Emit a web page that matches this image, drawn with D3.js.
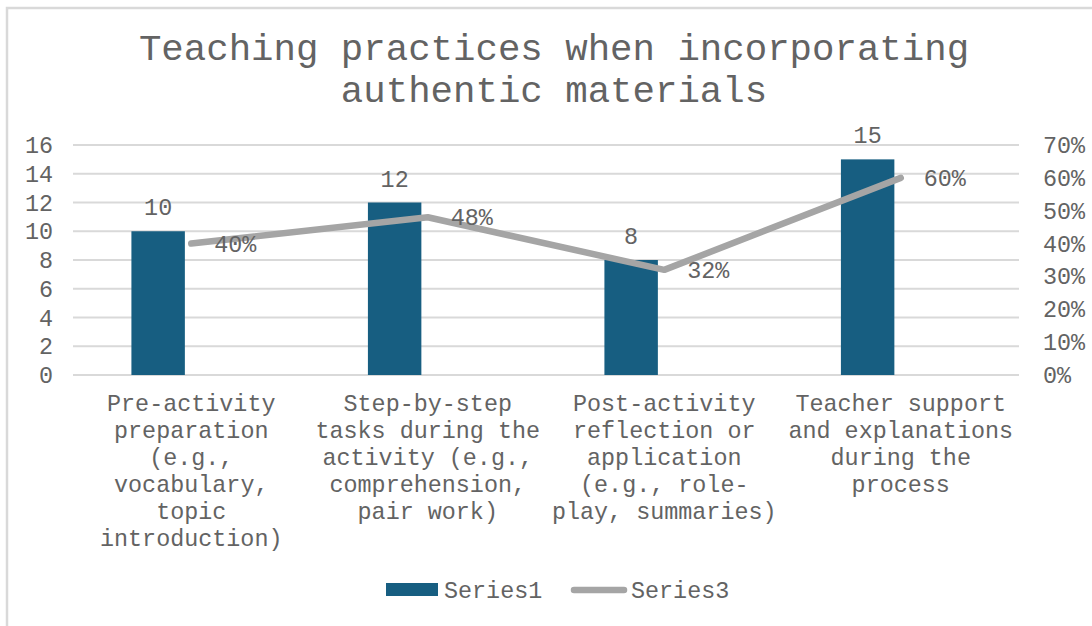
<!DOCTYPE html>
<html>
<head>
<meta charset="utf-8">
<script src="https://cdn.jsdelivr.net/npm/d3@7/dist/d3.min.js"></script>
<style>
  html, body { margin: 0; padding: 0; background: #ffffff; }
  svg { display: block; }
  text { font-family: "Liberation Mono", "Courier New", monospace; fill: #636363; }
</style>
</head>
<body>
<svg id="chart" width="1092" height="626"></svg>
<script>
// Chart data
const categories = [
  ["Pre-activity", "preparation", "(e.g.,", "vocabulary,", "topic", "introduction)"],
  ["Step-by-step", "tasks during the", "activity (e.g.,", "comprehension,", "pair work)"],
  ["Post-activity", "reflection or", "application", "(e.g., role-", "play, summaries)"],
  ["Teacher support", "and explanations", "during the", "process"]
];
const series1 = [10, 12, 8, 15];          // counts (left axis)
const series3 = [0.40, 0.48, 0.32, 0.60]; // shares (right axis)
const leftTicks = [0, 2, 4, 6, 8, 10, 12, 14, 16];
const rightTicks = [0, 0.1, 0.2, 0.3, 0.4, 0.5, 0.6, 0.7];
const seriesNames = ["Series1", "Series3"];
const titleLines = ["Teaching practices when incorporating", "authentic materials"];

const BAR_COLOR = "#175e81";
const LINE_COLOR = "#a5a5a5";
const GRID_COLOR = "#d9d9d9";
const FS = "23.4px";

const svg = d3.select("#chart");

// Outer chart frame
svg.append("rect")
  .attr("x", 7).attr("y", 8)
  .attr("width", 1200).attr("height", 700)
  .attr("fill", "#ffffff")
  .attr("stroke", GRID_COLOR).attr("stroke-width", 2.5);

// Plot area
const plot = { left: 73, right: 1019, top: 145, bottom: 375 };

const x = d3.scaleBand()
  .domain(d3.range(categories.length))
  .range([plot.left, plot.right])
  .paddingInner(0).paddingOuter(0);

const yLeft = d3.scaleLinear().domain([0, 16]).range([plot.bottom, plot.top]);
const yRight = d3.scaleLinear().domain([0, 0.7]).range([plot.bottom, plot.top]);

// Title
svg.append("g").selectAll("text")
  .data(titleLines)
  .join("text")
  .attr("x", 554)
  .attr("y", (d, i) => 60 + i * 42)
  .attr("text-anchor", "middle")
  .style("font-size", "37.4px")
  .text(d => d);

// Gridlines
svg.append("g").selectAll("line")
  .data(leftTicks)
  .join("line")
  .attr("x1", plot.left).attr("x2", plot.right)
  .attr("y1", d => yLeft(d)).attr("y2", d => yLeft(d))
  .attr("stroke", GRID_COLOR).attr("stroke-width", 1.8);

// Left axis
const leftAxis = svg.append("g")
  .attr("transform", `translate(${plot.left},0)`)
  .call(d3.axisLeft(yLeft).tickValues(leftTicks).tickSize(0).tickPadding(20).tickFormat(d3.format("d")));
leftAxis.select(".domain").remove();
leftAxis.selectAll("text").style("font-size", FS).attr("fill", "#636363");

// Right axis
const rightAxis = svg.append("g")
  .attr("transform", `translate(${plot.right},0)`)
  .call(d3.axisRight(yRight).tickValues(rightTicks).tickSize(0).tickPadding(24).tickFormat(d3.format(".0%")));
rightAxis.select(".domain").remove();
rightAxis.selectAll("text").style("font-size", FS).attr("fill", "#636363");

// Bars (offset left within each category slot)
const bw = x.bandwidth();
const barW = bw * 0.226;
const barCenter = i => x(i) + bw / 2 - bw * 0.14;

svg.append("g").selectAll("rect")
  .data(series1)
  .join("rect")
  .attr("x", (d, i) => barCenter(i) - barW / 2)
  .attr("y", d => yLeft(d))
  .attr("width", barW)
  .attr("height", d => yLeft(0) - yLeft(d))
  .attr("fill", BAR_COLOR);

// Bar value labels
svg.append("g").selectAll("text")
  .data(series1)
  .join("text")
  .attr("x", (d, i) => barCenter(i))
  .attr("y", d => yLeft(d) - 16)
  .attr("text-anchor", "middle")
  .style("font-size", FS)
  .text(d => d);

// Line series
const lineGen = d3.line()
  .x((d, i) => x(i) + bw / 2)
  .y(d => yRight(d));

svg.append("path")
  .datum(series3)
  .attr("d", lineGen)
  .attr("fill", "none")
  .attr("stroke", LINE_COLOR)
  .attr("stroke-width", 6.5)
  .attr("stroke-linecap", "round")
  .attr("stroke-linejoin", "round");

// Line value labels
svg.append("g").selectAll("text")
  .data(series3)
  .join("text")
  .attr("x", (d, i) => x(i) + bw / 2 + 23)
  .attr("y", d => yRight(d))
  .attr("dy", "0.35em")
  .style("font-size", FS)
  .text(d => d3.format(".0%")(d));

// Category labels
const catG = svg.append("g").selectAll("text")
  .data(categories)
  .join("text")
  .attr("x", (d, i) => x(i) + bw / 2)
  .attr("y", 411)
  .attr("text-anchor", "middle")
  .style("font-size", FS);
catG.selectAll("tspan")
  .data(d => d)
  .join("tspan")
  .attr("x", function () { return this.parentNode.getAttribute("x"); })
  .attr("dy", (d, i) => i === 0 ? 0 : 27)
  .text(d => d);

// Legend
const legend = svg.append("g");
legend.append("rect")
  .attr("x", 386).attr("y", 583)
  .attr("width", 52).attr("height", 13)
  .attr("fill", BAR_COLOR);
legend.append("text")
  .attr("x", 444).attr("y", 590).attr("dy", "0.35em")
  .style("font-size", FS)
  .text(seriesNames[0]);
legend.append("line")
  .attr("x1", 574).attr("x2", 624)
  .attr("y1", 590).attr("y2", 590)
  .attr("stroke", LINE_COLOR).attr("stroke-width", 6.5)
  .attr("stroke-linecap", "round");
legend.append("text")
  .attr("x", 631).attr("y", 590).attr("dy", "0.35em")
  .style("font-size", FS)
  .text(seriesNames[1]);
</script>
</body>
</html>
